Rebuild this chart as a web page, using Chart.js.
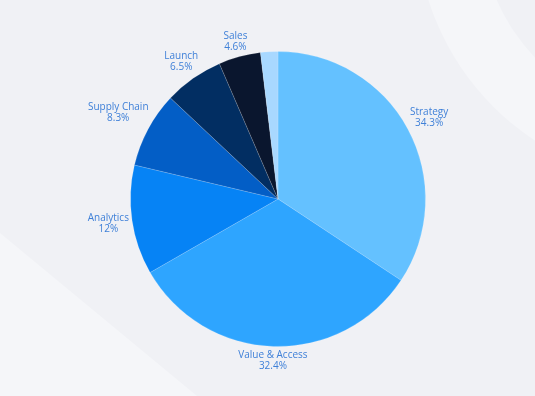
<!DOCTYPE html>
<html>
<head>
<meta charset="utf-8">
<script src="https://cdn.jsdelivr.net/npm/chart.js@4/dist/chart.umd.min.js"></script>
<style>
    html, body { margin: 0; padding: 0; }
    body { width: 535px; height: 396px; background: #f0f1f5; position: relative; overflow: hidden; }
    .ring { position: absolute; left: 416px; top: -344px; width: 528px; height: 528px; border-radius: 50%; background: #f5f6f9; }
    .ring-in { position: absolute; left: 480px; top: -280px; width: 400px; height: 400px; border-radius: 50%; background: #f0f1f5; }
    .wedge { position: absolute; left: 0; top: 0; width: 535px; height: 396px; background: #f5f6f9; clip-path: polygon(0 233px, 197px 396px, 0 396px); }
    .wrap { position: absolute; left: 0; top: 0; width: 535px; height: 396px; }
</style>
</head>
<body>
<div class="ring"></div>
<div class="ring-in"></div>
<div class="wedge"></div>
<div class="wrap"><canvas id="pieChart"></canvas></div>
<script>
(function() {
    'use strict';

    const categories = ['Strategy', 'Value & Access', 'Analytics', 'Supply Chain', 'Launch', 'Sales', ''];
    const shares = [34.3, 32.4, 12, 8.3, 6.5, 4.6, 1.9];
    const colors = ['#64c1ff', '#2ea5ff', '#0683f5', '#035ec6', '#022e62', '#0a162e', '#a8d8ff'];

    const labelColor = '#3f80d8';
    const labelFont = '10px "Open Sans"';

    // labels outside each slice, pushed out by the text box
    const outerLabels = {
        id: 'outerLabels',
        afterDatasetsDraw(chart) {
            const ctx = chart.ctx;
            const arcs = chart.getDatasetMeta(0).data;
            ctx.save();
            ctx.font = labelFont;
            ctx.fillStyle = labelColor;
            ctx.textAlign = 'center';
            ctx.textBaseline = 'middle';
            arcs.forEach((arc, i) => {
                if (!categories[i]) return;
                const lines = [categories[i], shares[i] + '%'];
                const w = Math.max(...lines.map(t => ctx.measureText(t).width));
                const h = 22;
                const mid = (arc.startAngle + arc.endAngle) / 2;
                const ux = Math.cos(mid), uy = Math.sin(mid);
                const d = arc.outerRadius + 2 + Math.abs(ux) * w / 2 + Math.abs(uy) * h / 2;
                const cx = arc.x + ux * d;
                const cy = arc.y + uy * d;
                ctx.fillText(lines[0], cx, cy - 5.5);
                ctx.fillText(lines[1], cx, cy + 5.5);
            });
            ctx.restore();
        }
    };

    new Chart(document.getElementById('pieChart'), {
        type: 'pie',
        data: {
            labels: categories,
            datasets: [{
                data: shares,
                backgroundColor: colors,
                borderColor: 'rgba(255,255,255,0.15)',
                borderWidth: 1
            }]
        },
        options: {
            responsive: true,
            maintainAspectRatio: false,
            animation: false,
            layout: { padding: { top: 51, bottom: 49, left: 21, right: 0 } },
            plugins: {
                legend: { display: false },
                tooltip: { enabled: false }
            }
        },
        plugins: [outerLabels]
    });
})();
</script>
</body>
</html>
